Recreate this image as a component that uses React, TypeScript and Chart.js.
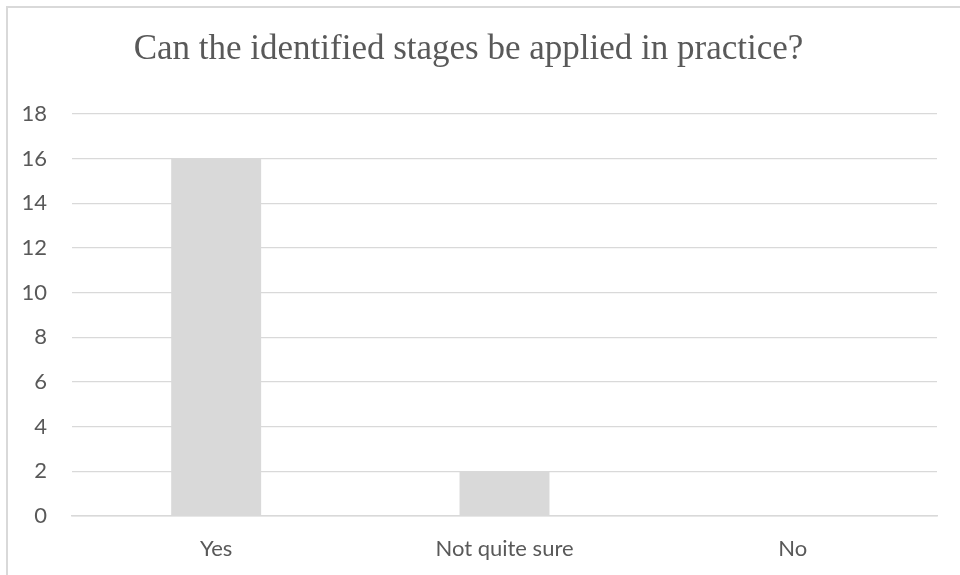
import React, { useEffect, useRef } from "react";
import { Chart, registerables } from "chart.js";

Chart.register(...registerables);

const titleText = "Can the identified stages be applied in practice?";
const categories = ["Yes", "Not quite sure", "No"];
const values = [16, 2, 0];
const yMin = 0;
const yMax = 18;
const yStep = 2;

export default function App() {
  const ref = useRef<HTMLCanvasElement | null>(null);
  useEffect(() => {
    if (!ref.current) return;
    const chart = new Chart(ref.current, {
      type: "bar",
      data: {
        labels: categories,
        datasets: [
          {
            data: values,
            backgroundColor: "#d9d9d9",
            borderWidth: 0,
            categoryPercentage: 1,
            barPercentage: 0.312,
          },
        ],
      },
      options: {
        animation: false,
        responsive: false,
        maintainAspectRatio: false,
        layout: { padding: { left: 0, right: 23, top: 0, bottom: 0 } },
        plugins: {
          legend: { display: false },
          tooltip: { enabled: false },
          title: {
            display: true,
            text: titleText,
            color: "#595959",
            font: { family: "'Liberation Serif', 'Times New Roman', serif", size: 35, weight: "normal" },
            padding: { top: 29, bottom: 43 },
          },
        },
        scales: {
          x: {
            grid: { display: false, drawTicks: false },
            border: { display: true, color: "#d9d9d9", width: 1.5 },
            ticks: {
              color: "#595959",
              font: { family: "Lato, 'Open Sans', sans-serif", size: 22 },
              padding: 20,
            },
            afterFit: (scale: any) => {
              scale.height = 59;
            },
          },
          y: {
            min: yMin,
            max: yMax,
            grid: { color: "#d9d9d9", lineWidth: 1.3, drawTicks: false },
            border: { display: false },
            ticks: {
              stepSize: yStep,
              color: "#595959",
              font: { family: "Lato, 'Open Sans', sans-serif", size: 22 },
              padding: 25,
            },
            afterFit: (scale: any) => {
              scale.width = 72;
            },
          },
        },
      },
    });
    return () => chart.destroy();
  }, []);

  return (
    <div style={{ position: "absolute", left: 0, top: 0, width: 960, height: 575, background: "#fff", overflow: "hidden" }}>
      <div
        style={{
          position: "absolute",
          left: 6,
          top: 6,
          width: 1000,
          height: 1000,
          border: "2px solid #d9d9d9",
          boxSizing: "border-box",
        }}
      />
      <canvas ref={ref} width={960} height={575} style={{ position: "absolute", left: 0, top: 0 }} />
    </div>
  );
}
